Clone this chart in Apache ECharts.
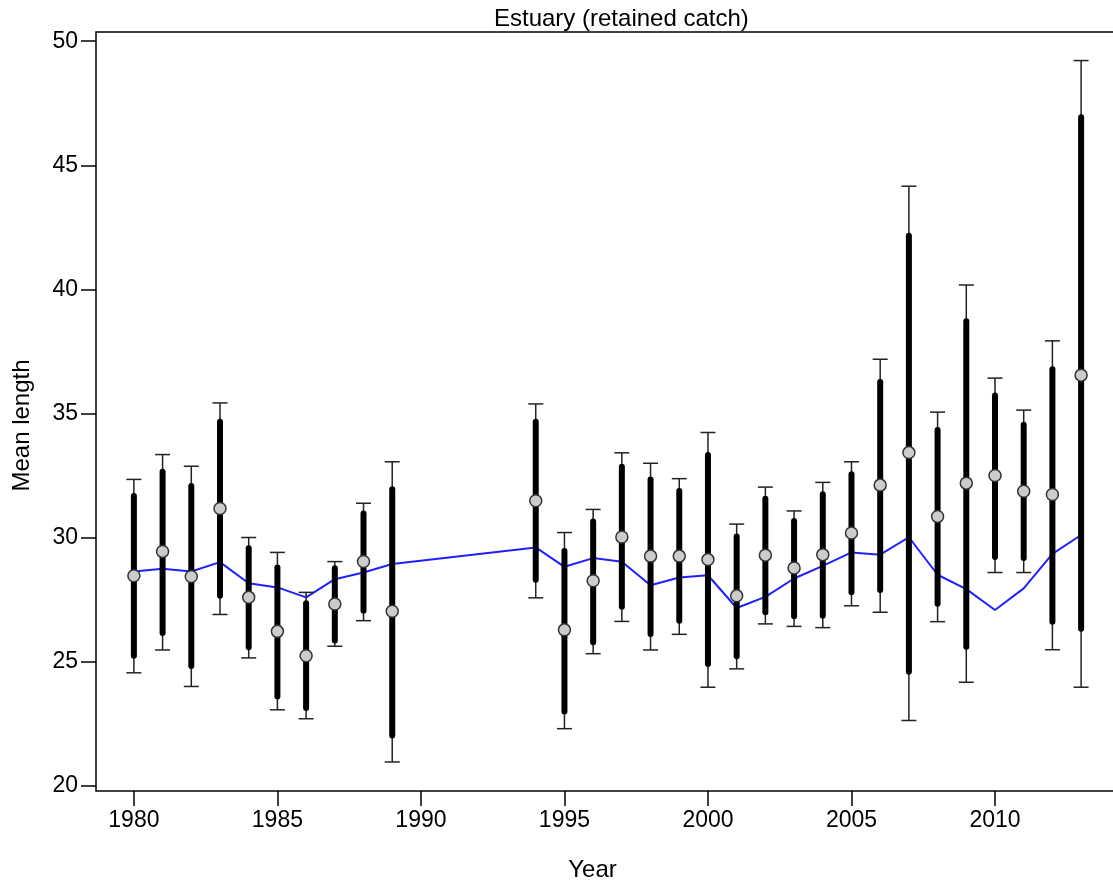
<!DOCTYPE html>
<html>
<head>
<meta charset="utf-8">
<script src="https://cdn.jsdelivr.net/npm/echarts@6/dist/echarts.min.js"></script>
<style>
  html, body { margin: 0; padding: 0; background: #fff; }
  #chart { width: 1113px; height: 883px; }
</style>
</head>
<body>
<div id="chart"></div>
<script>
// ---- Data ----
const years = [1980,1981,1982,1983,1984,1985,1986,1987,1988,1989,1994,1995,1996,1997,1998,1999,2000,2001,2002,2003,2004,2005,2006,2007,2008,2009,2010,2011,2012,2013];
const meanLength = [28.47,29.45,28.44,31.18,27.60,26.23,25.25,27.33,29.04,27.04,31.49,26.29,28.27,30.03,29.26,29.26,29.12,27.66,29.30,28.78,29.32,30.19,32.12,33.43,30.86,32.20,32.51,31.87,31.74,36.55];
const innerLow  = [25.25,26.16,24.83,27.66,25.59,23.61,23.14,25.86,27.06,22.04,28.31,23.00,25.79,27.22,26.12,26.66,24.92,25.23,27.00,26.84,26.86,27.80,27.90,24.60,27.34,25.61,29.22,29.18,26.62,26.33];
const innerHigh = [31.68,32.66,32.08,34.67,29.58,28.80,27.36,28.77,30.98,31.95,34.67,29.47,30.65,32.86,32.35,31.88,33.33,30.05,31.57,30.67,31.75,32.56,36.27,42.16,34.34,38.72,35.73,34.55,36.79,46.94];
const outerLow  = [24.56,25.48,24.01,26.91,25.16,23.07,22.71,25.63,26.66,20.97,27.58,22.31,25.33,26.63,25.48,26.11,23.98,24.72,26.53,26.43,26.38,27.26,27.00,22.64,26.62,24.18,28.60,28.60,25.49,23.98];
const outerHigh = [32.35,33.35,32.88,35.43,30.01,29.41,27.80,29.04,31.39,33.06,35.39,30.21,31.14,33.42,33.00,32.38,34.24,30.55,32.04,31.08,32.23,33.06,37.19,44.16,35.06,40.18,36.43,35.14,37.93,49.22];
const expected  = [28.64,28.75,28.64,29.02,28.17,28.00,27.60,28.33,28.60,28.94,29.61,28.83,29.18,29.03,28.09,28.40,28.49,27.17,27.62,28.36,28.87,29.41,29.32,30.02,28.51,27.93,27.09,27.96,29.35,30.11];
const xTicks = [1980,1985,1990,1995,2000,2005,2010];
const yTicks = [20,25,30,35,40,45,50];

const FONT = "'Liberation Sans', Arial, sans-serif";

const outerData = years.map((y, i) => [y, outerLow[i], outerHigh[i]]);
const innerData = years.map((y, i) => [y, innerLow[i], innerHigh[i]]);
const meanData = years.map((y, i) => [y, meanLength[i]]);
const expData = years.map((y, i) => [y, expected[i]]);

const chart = echarts.init(document.getElementById('chart'), null, { renderer: 'canvas' });

chart.setOption({
  animation: false,
  backgroundColor: '#fff',
  title: {
    text: 'Estuary (retained catch)',
    left: 494,
    top: 7,
    padding: 0,
    textStyle: { fontFamily: FONT, fontSize: 24, fontWeight: 'normal', color: '#000' }
  },
  grid: {
    left: 96, top: 32, right: -6, bottom: 92,
    outerBoundsMode: 'none',
    containLabel: false,
    show: true, borderColor: '#000', borderWidth: 1.5, backgroundColor: 'transparent'
  },
  xAxis: {
    type: 'value',
    min: 1978.68, max: 2014.32,
    name: 'Year',
    nameLocation: 'middle',
    nameGap: 67,
    nameTextStyle: { fontFamily: FONT, fontSize: 24, color: '#000', padding: [0, 30, 0, 0] },
    axisLine: { show: false },
    splitLine: { show: false },
    axisTick: { show: true, inside: false, length: 15, customValues: xTicks, lineStyle: { color: '#000', width: 1.5 } },
    axisLabel: { customValues: xTicks, formatter: v => String(v), fontFamily: FONT, fontSize: 23, color: '#000', margin: 18 }
  },
  yAxis: {
    type: 'value',
    min: 19.80, max: 50.37,
    name: 'Mean length',
    nameLocation: 'middle',
    nameGap: 62,
    nameRotate: 90,
    nameTextStyle: { fontFamily: FONT, fontSize: 24, color: '#000', padding: [0, 28, 0, 0] },
    axisLine: { show: false },
    splitLine: { show: false },
    axisTick: { show: true, inside: false, length: 15, customValues: yTicks, lineStyle: { color: '#000', width: 1.5 } },
    axisLabel: { customValues: yTicks, formatter: v => String(v), fontFamily: FONT, fontSize: 23, color: '#000', margin: 18 }
  },
  series: [
    {
      name: 'Expected',
      type: 'line',
      data: expData,
      symbol: 'none',
      z: 1,
      lineStyle: { color: '#2020ff', width: 2 }
    },
    {
      name: 'Outer',
      type: 'custom',
      data: outerData,
      z: 2,
      renderItem: function (params, api) {
        const x = api.value(0);
        const lo = api.coord([x, api.value(1)]);
        const hi = api.coord([x, api.value(2)]);
        const hw = 7.5;
        const st = { stroke: '#222', lineWidth: 1.5, fill: null };
        return {
          type: 'group',
          children: [
            { type: 'line', shape: { x1: lo[0], y1: lo[1], x2: hi[0], y2: hi[1] }, style: st },
            { type: 'line', shape: { x1: lo[0] - hw, y1: lo[1], x2: lo[0] + hw, y2: lo[1] }, style: st },
            { type: 'line', shape: { x1: hi[0] - hw, y1: hi[1], x2: hi[0] + hw, y2: hi[1] }, style: st }
          ]
        };
      }
    },
    {
      name: 'Inner',
      type: 'custom',
      data: innerData,
      z: 3,
      renderItem: function (params, api) {
        const x = api.value(0);
        const lo = api.coord([x, api.value(1)]);
        const hi = api.coord([x, api.value(2)]);
        return {
          type: 'line',
          shape: { x1: lo[0], y1: lo[1], x2: hi[0], y2: hi[1] },
          style: { stroke: '#000', lineWidth: 6, lineCap: 'round', fill: null }
        };
      }
    },
    {
      name: 'Mean',
      type: 'scatter',
      data: meanData,
      z: 4,
      symbol: 'circle',
      symbolSize: 12,
      itemStyle: { color: '#cccccc', borderColor: '#333', borderWidth: 1.5, opacity: 1 }
    }
  ]
});
</script>
</body>
</html>
